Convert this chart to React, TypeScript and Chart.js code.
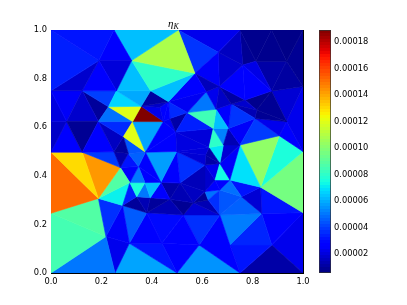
import React, { useEffect, useRef } from "react";
import { Chart, registerables } from "chart.js";

Chart.register(...registerables);

const nodeX = [0,.25,.505,.75,.875,1,.19,.32,.664,.761,.813,.935,.571,0,.124,.26,.395,.668,.875,1,.616,.466,.77,.715,.228,.358,.432,.816,.655,.541,.472,.81,.935,0,.062,.188,.324,.446,.644,.704,.495,.287,.906,.684,.75,.627,0,.124,.25,.307,.375,.499,1,.613,.67,.611,.275,.347,.651,.71,.313,.373,.436,.512,.832,.67,.611,.34,.394,.756,.188,.472,.624,.565,.284,.38,0,.525,.67,.836,1,.218,.311,.44,.588,.71,.876,0,.254,.5,.75,1];
const nodeY = [1,1,1,1,1,1,.874,.874,.908,.856,.871,.871,.822,.75,.75,.75,.75,.767,.749,.767,.746,.705,.712,.695,.684,.686,.682,.671,.674,.66,.636,.636,.623,.623,.623,.623,.623,.623,.595,.595,.58,.561,.565,.527,.527,.516,.497,.497,.499,.492,.497,.5,.5,.486,.451,.444,.434,.438,.383,.383,.372,.372,.373,.37,.353,.342,.335,.314,.31,.314,.307,.303,.3,.289,.278,.248,.246,.239,.239,.245,.248,.15,.122,.122,.115,.115,.115,0,0,0,0,0];

const triangles = [
  [0,1,6],[0,6,13],[6,13,14],[6,14,15],[6,7,15],[1,6,7],[1,2,7],[2,7,12],[7,12,16],[7,15,16],
  [12,16,21],[15,16,25],[15,24,25],[14,15,24],[16,21,25],[21,25,26],[25,26,37],[21,26,37],[21,30,37],[21,29,30],
  [21,20,29],[12,20,21],[12,17,20],[8,12,17],[2,8,12],[2,3,8],[3,8,9],[8,9,17],[9,17,22],[9,18,22],
  [9,10,18],[3,9,10],[3,4,10],[4,10,11],[4,5,11],[5,11,19],[11,18,19],[10,11,18],[17,22,23],[17,23,28],
  [17,20,28],[20,28,29],[28,29,38],[28,38,39],[23,28,39],[23,31,39],[23,27,31],[22,23,27],[18,22,27],[18,27,32],
  [27,31,32],[18,19,32],[19,32,52],[31,32,42],[32,42,52],[31,42,44],[39,31,44],[39,43,44],[38,39,43],[38,43,45],
  [29,38,40],[30,29,40],[37,30,40],[38,40,45],[40,45,51],[37,40,50],[40,50,51],[45,51,53],[51,53,55],[45,53,54],
  [53,54,55],[43,45,54],[43,44,54],[44,54,59],[54,58,59],[54,55,58],[44,59,64],[42,44,64],[42,52,64],[52,64,80],
  [24,25,36],[25,36,37],[36,37,50],[36,41,50],[24,35,36],[35,36,41],[35,41,48],[35,47,48],[34,35,47],[14,34,35],
  [14,24,35],[13,14,34],[13,33,34],[33,34,46],[34,46,47],[41,48,49],[41,49,50],[48,49,56],[47,48,56],[49,50,57],
  [49,56,57],[46,47,70],[47,56,70],[46,70,76],[56,60,70],[56,57,60],[57,60,61],[57,61,62],[50,57,62],[50,51,62],
  [51,62,63],[51,55,63],[60,61,67],[61,62,68],[61,67,68],[62,68,71],[62,63,71],[60,67,74],[60,70,74],[67,68,75],
  [67,74,75],[68,71,75],[71,75,77],[63,71,73],[71,73,77],[63,66,73],[55,63,66],[55,58,66],[58,65,66],[58,59,65],
  [59,65,69],[59,64,69],[64,69,79],[64,79,80],[65,69,78],[69,78,79],[65,72,78],[65,66,72],[66,72,73],[72,73,78],
  [73,77,78],[70,74,81],[70,76,81],[76,81,87],[81,87,88],[74,81,82],[81,82,88],[74,75,82],[75,82,83],[82,83,89],
  [82,88,89],[75,77,83],[77,83,84],[83,84,89],[77,78,84],[78,84,85],[84,85,90],[84,89,90],[78,79,85],[79,85,86],
  [85,86,90],[86,90,91],[79,80,86],[80,86,91],
];

// eta_K per triangle, in units of 1e-5
const etaValues = [
  3.2,3.4,1.8,2.6,2,2.7,6.3,10.8,8,6.3,
  6.3,5.9,6.7,4,1.1,1.7,2.3,2.7,2.8,3.6,
  2.4,2.7,1.5,2.5,3.8,2.3,1.6,1.8,2.7,2.7,
  2.2,.9,.8,.8,.7,.9,1.1,1.2,1.1,1.7,
  2.3,5,8.4,6.3,2.7,3.8,1.4,1.8,.8,.9,
  .9,1.9,2.3,2.3,2.7,3.9,2.5,1.4,5.2,8,
  3.4,1.2,2.4,2.0,2.1,2.7,2.7,2,1.9,1.2,
  1.2,7,1.9,2.5,7.4,2.3,6.9,10.2,7.6,9.6,
  12,18.9,5.8,12,4.9,3.6,1.6,2.7,.9,1.8,
  1,2.5,2.1,1.7,2.7,1,4.4,1.3,3.9,4.6,
  3.2,13,14.3,15.2,8.8,2.7,5,2.7,2.7,5.7,
  2.7,3.7,7.6,6.3,5,2.7,1.2,3.4,7.2,1.4,
  1,1,1.4,1.4,.9,1.6,1.5,1.8,2.7,2.7,
  4.9,3.2,1.9,3.2,4.4,4.6,3.7,4.9,.9,1.4,
  1.9,3.7,8.8,8.5,5,2.5,2.3,4.5,2.7,3.2,
  5.8,3,2.7,2.7,3.7,2.7,2.7,5.5,5.1,3.5,
  3.2,1.2,2.7,2.3,
];

const axisTicks = [0, 0.2, 0.4, 0.6, 0.8, 1];
const colorbarTicks = [0.00002, 0.00004, 0.00006, 0.00008, 0.0001, 0.00012, 0.00014, 0.00016, 0.00018];
const etaMin = 0.0000057;
const etaMax = 0.000189;

const jetRed: number[][] = [[0,0],[.35,0],[.66,1],[.89,1],[1,.5]];
const jetGreen: number[][] = [[0,0],[.125,0],[.375,1],[.64,1],[.91,0],[1,0]];
const jetBlue: number[][] = [[0,.5],[.11,1],[.34,1],[.65,0],[1,0]];

function channel(table: number[][], t: number) {
  for (let i = 1; i < table.length; i++) {
    if (t <= table[i][0]) {
      const [a, va] = table[i - 1];
      const [b, vb] = table[i];
      return Math.round(255 * (va + ((vb - va) * (t - a)) / (b - a)));
    }
  }
  return Math.round(255 * table[table.length - 1][1]);
}
function jet(t: number) {
  const c = Math.max(0, Math.min(1, t));
  return `rgb(${channel(jetRed, c)},${channel(jetGreen, c)},${channel(jetBlue, c)})`;
}

const FONT = { family: "'DejaVu Sans'", size: 8.3 };
const BANDS = 80;

const fixAxisW = (w: number) => (s: any) => { s.width = w; };
const fixAxisH = (h: number) => (s: any) => { s.height = h; };
const setTicks = (vals: number[]) => (s: any) => { s.ticks = vals.map((value) => ({ value })); };

export default function App() {
  const meshRef = useRef<HTMLCanvasElement>(null);
  const barRef = useRef<HTMLCanvasElement>(null);

  useEffect(() => {
    const grid = { drawOnChartArea: false, tickLength: -3, tickWidth: 0.7, tickColor: "#000", lineWidth: 0.7, color: "#000" };
    const border = { color: "#000", width: 1 };
    const base = { min: 0, max: 1, grid, border };
    const mesh = new Chart(meshRef.current!, {
      type: "scatter",
      data: {
        datasets: triangles.map((tri, i) => {
          const color = jet((etaValues[i] * 1e-5 - etaMin) / (etaMax - etaMin));
          return {
            data: [...tri, tri[0]].map((n) => ({ x: nodeX[n], y: nodeY[n] })),
            showLine: true,
            fill: "shape",
            backgroundColor: color,
            borderColor: color,
            borderWidth: 0.6,
            pointRadius: 0,
            tension: 0,
          };
        }) as any,
      },
      options: {
        animation: false,
        responsive: false,
        events: [],
        layout: { padding: { top: 30, right: 104, left: 0, bottom: 0 } },
        plugins: { legend: { display: false }, tooltip: { enabled: false } },
        scales: {
          x: { ...base, type: "linear", position: "bottom", afterFit: fixAxisH(32), afterBuildTicks: setTicks(axisTicks),
            ticks: { font: FONT, color: "#000", maxRotation: 0, padding: 7, callback: (v: any) => Number(v).toFixed(1) } },
          y: { ...base, type: "linear", position: "left", afterFit: fixAxisW(51), afterBuildTicks: setTicks(axisTicks),
            ticks: { font: FONT, color: "#000", padding: 7, callback: (v: any) => Number(v).toFixed(1) } },
          x2: { ...base, type: "linear", position: "top", afterFit: fixAxisH(0), afterBuildTicks: setTicks(axisTicks), ticks: { display: false } },
          y2: { ...base, type: "linear", position: "right", afterFit: fixAxisW(0), afterBuildTicks: setTicks(axisTicks), ticks: { display: false } },
        },
      } as any,
    });

    const colorbar = new Chart(barRef.current!, {
      type: "bar",
      data: {
        labels: ["eta"],
        datasets: [{
          data: [[etaMin, etaMax]],
          categoryPercentage: 1,
          barPercentage: 1,
          borderColor: "#333",
          borderWidth: 1,
          borderSkipped: false,
          backgroundColor: (ctx: any) => {
            const area = ctx.chart.chartArea;
            if (!area) return "#000";
            const g = ctx.chart.ctx.createLinearGradient(0, area.bottom, 0, area.top);
            for (let i = 0; i < BANDS; i++) {
              const color = jet((i + 0.5) / BANDS);
              g.addColorStop(i / BANDS, color);
              g.addColorStop((i + 1) / BANDS, color);
            }
            return g;
          },
        }] as any,
      },
      options: {
        animation: false,
        responsive: false,
        events: [],
        layout: { padding: { top: 30, right: 0, left: 319, bottom: 32 } },
        plugins: { legend: { display: false }, tooltip: { enabled: false } },
        scales: {
          x: { display: false },
          y: {
            type: "linear", position: "right", min: etaMin, max: etaMax,
            afterBuildTicks: setTicks(colorbarTicks), afterFit: fixAxisW(76),
            grid: { drawOnChartArea: false, tickLength: -3, tickWidth: 0.7, tickColor: "#000" },
            border: { display: false },
            ticks: { font: FONT, color: "#000", padding: 6, autoSkip: false, callback: (v: any) => Number(v).toFixed(5) },
          },
        },
      } as any,
    });

    return () => { mesh.destroy(); colorbar.destroy(); };
  }, []);

  const abs: React.CSSProperties = { position: "absolute", left: 0, top: 0 };
  return (
    <div style={{ position: "absolute", left: 0, top: 0, width: 407, height: 305, background: "#fff" }}>
      <canvas ref={meshRef} width={407} height={305} style={abs} />
      <canvas ref={barRef} width={407} height={305} style={abs} />
      <div style={{ position: "absolute", left: 168, top: 17, fontFamily: "'Liberation Serif'", fontStyle: "italic", fontSize: 11, lineHeight: "12px", color: "#000", whiteSpace: "nowrap" }}>
        η<sub style={{ fontSize: 8, verticalAlign: "-2px", lineHeight: 0 }}>K</sub>
      </div>
    </div>
  );
}
